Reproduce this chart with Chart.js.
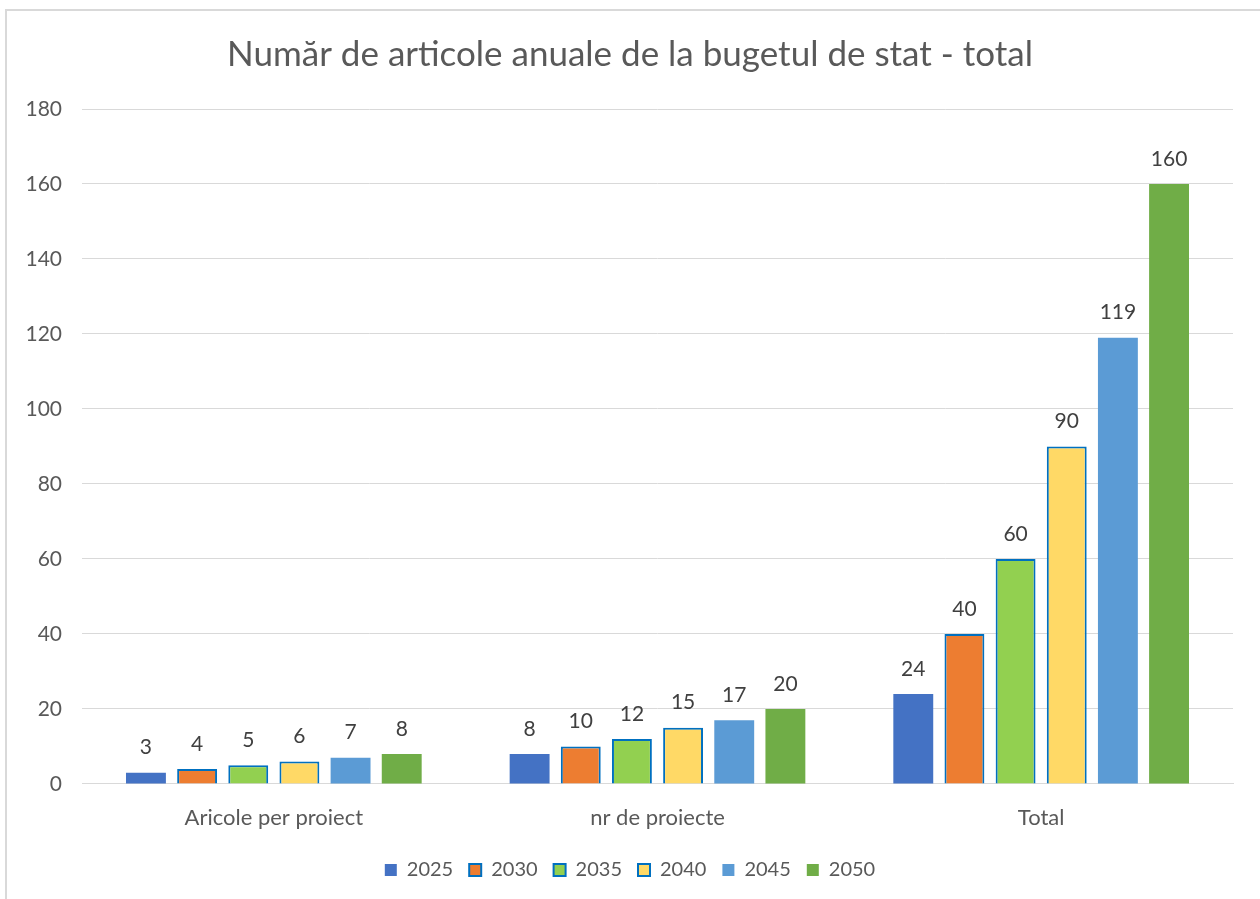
<!DOCTYPE html>
<html>
<head>
<meta charset="utf-8">
<script src="https://cdn.jsdelivr.net/npm/chart.js@4.4.0/dist/chart.umd.min.js"></script>
<style>
  html, body { margin: 0; padding: 0; background: #fff; overflow: hidden; }
  #rama { position: absolute; left: 5px; top: 9px; width: 1300px; height: 1000px; border: 2px solid #d9d9d9; box-sizing: border-box; }
  #grafic { position: absolute; left: 0; top: 0; }
</style>
</head>
<body>
<div id="rama"></div>
<canvas id="grafic" width="1260" height="899"></canvas>
<script>
const categorii = ['Aricole per proiect', 'nr de proiecte', 'Total'];
const ani = ['2025', '2030', '2035', '2040', '2045', '2050'];
const v2025 = [3, 8, 24];
const v2030 = [4, 10, 40];
const v2035 = [5, 12, 60];
const v2040 = [6, 15, 90];
const v2045 = [7, 17, 119];
const v2050 = [8, 20, 160];
const valori = [v2025, v2030, v2035, v2040, v2045, v2050];

const culori = ['#4472C4', '#ED7D31', '#92D050', '#FFD966', '#5B9BD5', '#70AD47'];
const contur = [null, '#0070C0', '#0070C0', '#0070C0', null, null];

const FONT = 'Lato';

// etichete cu valori deasupra barelor
const eticheteValori = {
  id: 'eticheteValori',
  afterDatasetsDraw(chart) {
    const ctx = chart.ctx;
    ctx.save();
    ctx.font = '21px ' + FONT;
    ctx.fillStyle = '#404040';
    ctx.textAlign = 'center';
    ctx.textBaseline = 'middle';
    chart.data.datasets.forEach((ds, i) => {
      chart.getDatasetMeta(i).data.forEach((bar, j) => {
        ctx.fillText(ds.data[j], bar.x, bar.y - 25);
      });
    });
    ctx.restore();
  }
};

new Chart(document.getElementById('grafic'), {
  type: 'bar',
  data: {
    labels: categorii,
    datasets: ani.map((an, i) => ({
      label: an,
      data: valori[i],
      backgroundColor: culori[i],
      borderColor: contur[i] || culori[i],
      borderWidth: contur[i] ? 2 : 0,
      categoryPercentage: 0.8,
      barPercentage: 0.78
    }))
  },
  options: {
    responsive: false,
    animation: false,
    layout: { padding: { top: 20, right: 27, bottom: 9, left: 27 } },
    plugins: {
      title: {
        display: true,
        text: 'Număr de articole anuale de la bugetul de stat - total',
        color: '#595959',
        font: { family: FONT, size: 35, weight: 'normal' },
        padding: { top: 14, bottom: 33 }
      },
      legend: {
        position: 'bottom',
        labels: {
          color: '#595959',
          font: { family: FONT, size: 20 },
          boxWidth: 12,
          boxHeight: 12,
          padding: 16
        }
      },
      tooltip: { enabled: false }
    },
    scales: {
      x: {
        grid: { display: false },
        border: { color: '#d9d9d9', width: 1 },
        ticks: { color: '#595959', font: { family: FONT, size: 22, lineHeight: 1.55 }, padding: 9 }
      },
      y: {
        min: 0,
        max: 180,
        ticks: { stepSize: 20, color: '#595959', font: { family: FONT, size: 21 }, padding: 20 },
        grid: { color: '#d9d9d9', lineWidth: 1, drawTicks: false },
        border: { display: false },
        afterFit(scale) { scale.width = 55; }
      }
    }
  },
  plugins: [eticheteValori]
});
</script>
</body>
</html>
